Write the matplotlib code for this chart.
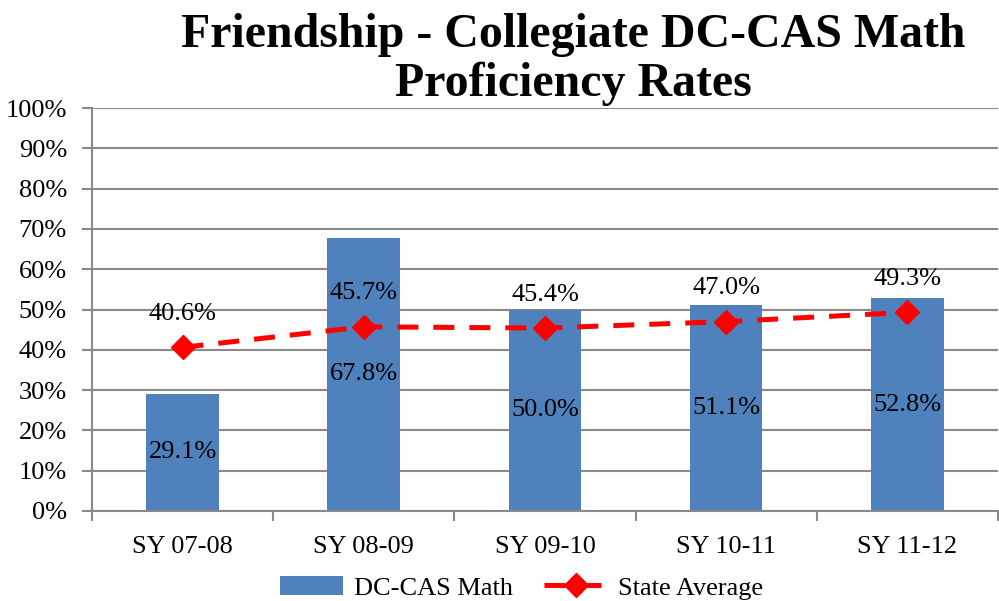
import numpy as np
import matplotlib.pyplot as plt
from matplotlib.ticker import FixedLocator

plt.rcParams['font.family'] = ['Liberation Serif', 'DejaVu Serif']

years = ["SY 07-08", "SY 08-09", "SY 09-10", "SY 10-11", "SY 11-12"]
dc_cas_math = [29.1, 67.8, 50.0, 51.1, 52.8]
state_avg = [40.6, 45.7, 45.4, 47.0, 49.3]
yticks = list(range(0, 101, 10))

grid_col = "#898989"
fs = 19

fig = plt.figure(figsize=(9.99, 6.01), dpi=100)
ax = fig.add_axes([0.092, 0.150, 0.907, 0.670])

x = np.arange(len(years))
bars = ax.bar(x, dc_cas_math, width=0.4, color="#4F81BD", label="DC-CAS Math", zorder=2)
line, = ax.plot(x, state_avg, color="#FF0000", linestyle=(0, (4.2, 3.0)), linewidth=3.6,
                marker="D", markersize=12, label="State Average", zorder=3)

for xi, v in zip(x, dc_cas_math):
    ax.text(xi, v / 2, f"{v:.1f}%", ha="center", va="center", fontsize=fs, zorder=4)
for xi, v in zip(x, state_avg):
    ax.annotate(f"{v:.1f}%", (xi, v), xytext=(0, 24), textcoords="offset points",
                ha="center", va="center", fontsize=fs, zorder=4)

ax.set_xlim(-0.5, len(years) - 0.5)
ax.set_ylim(0, 100)
ax.set_yticks(yticks)
ax.set_yticklabels([f"{t}%" for t in yticks], fontsize=fs)
ax.set_xticks(x)
ax.set_xticklabels(years, fontsize=fs)
ax.tick_params(axis="x", length=0, pad=18)
ax.xaxis.set_minor_locator(FixedLocator(np.arange(-0.5, len(years), 1.0)))
ax.tick_params(axis="x", which="minor", length=7, color=grid_col, width=1.5)
ax.tick_params(axis="y", length=7, color=grid_col, width=1.5, pad=11)

ax.grid(axis="y", color=grid_col, linewidth=1.5, zorder=0)
ax.set_axisbelow(True)
for s in ["top", "right"]:
    ax.spines[s].set_visible(False)
for s in ["left", "bottom"]:
    ax.spines[s].set_color(grid_col)
    ax.spines[s].set_linewidth(1.5)

fig.suptitle("Friendship - Collegiate DC-CAS Math\nProficiency Rates", x=0.574, y=0.978,
             fontsize=34.5, fontweight="bold", linespacing=1.13)

fig.legend([bars, line], ["DC-CAS Math", "State Average"], loc="center",
           bbox_to_anchor=(0.522, 0.022), ncol=2, frameon=False,
           fontsize=fs, handlelength=2.4, handletextpad=0.4, columnspacing=1.2)

fig.savefig("out.png", dpi=100)
